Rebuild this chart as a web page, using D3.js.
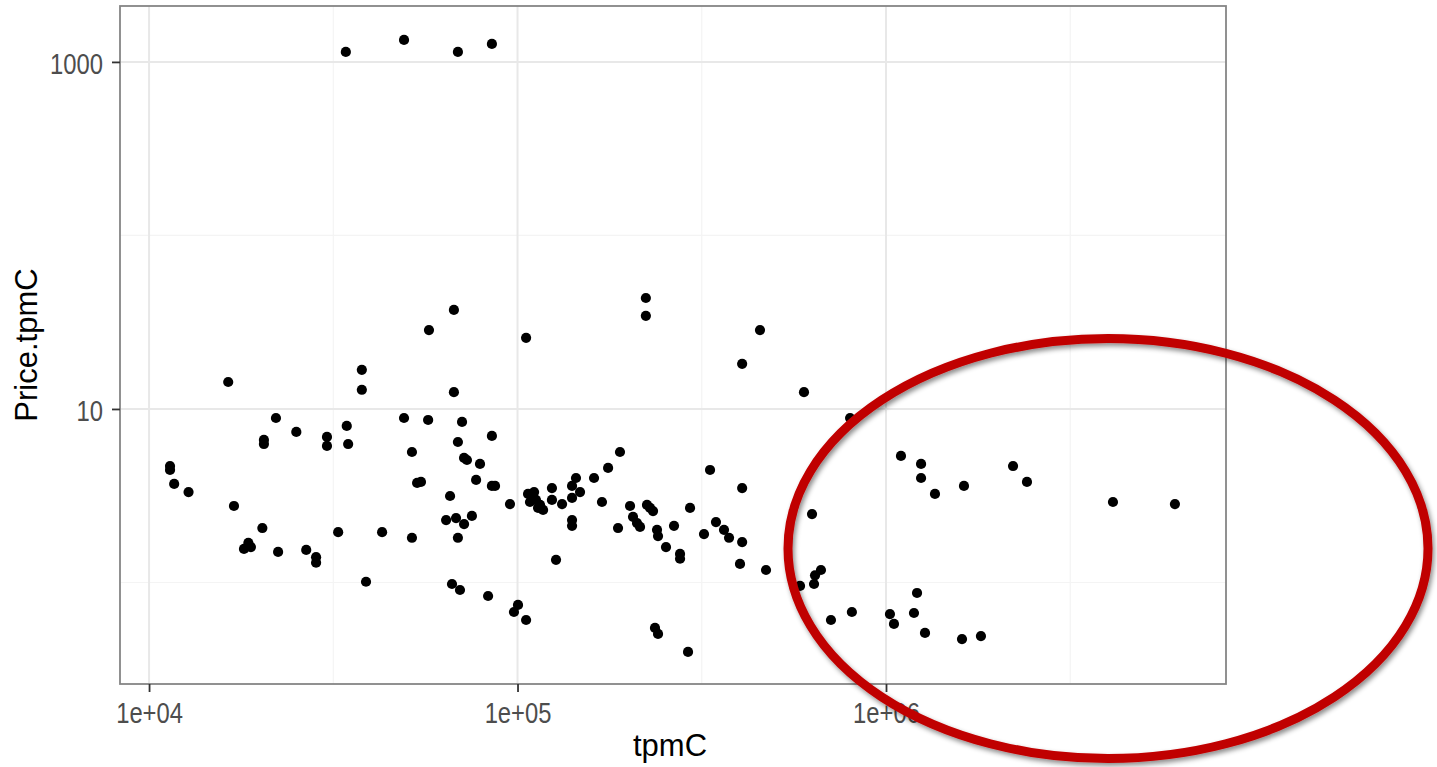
<!DOCTYPE html>
<html><head><meta charset="utf-8">
<script src="https://cdn.jsdelivr.net/npm/d3@7/dist/d3.min.js"></script>
<style>body{margin:0;background:#fff;} svg{display:block;}</style>
</head><body><svg id="c" width="1437" height="767"></svg>
<script>
// ---- data ----
const tpmC = [34200,49200,68900,85200,57500,67200,105500,223000,223000,455000,407000,599000,37800,37800,16400,67200,799000,
22100,20500,20500,25100,30400,30400,34400,34700,49200,57200,51700,70700,68900,85200,71600,72900,79100,189700,176100,333000,
11400,11400,11700,12800,17000,20300,18100,18600,18900,22400,26700,28400,28400,32600,38800,42900,51700,53400,54700,65600,77200,
85200,86900,95400,64000,68100,71600,75200,68900,66400,69800,83200,100300,97800,105500,
106800,110900,108100,112200,115100,117300,113700,109500,124000,124000,132100,140600,140600,144100,147800,140600,140600,161300,
169500,127200,187400,202000,205800,211000,215000,224600,228900,233200,239100,240600,252900,265900,276100,276100,293900,320700,
345600,363400,375000,407000,407000,401600,472500,236100,240600,290200,
629900,584300,637800,641800,666000,709000,808000,1025000,1051000,1098000,1245000,1245000,1358000,1628000,2212000,2413000,
4130000,6083000,1214000,1191000,1276000,1608000,1810000];
const priceTpmC = [1142,1339,1142,1270,28.5,37.2,25.7,43.6,34.4,28.5,18.2,12.5,16.8,12.9,14.3,12.5,8.87,
8.87,6.63,6.28,7.37,6.90,6.12,7.98,6.28,8.87,8.64,5.65,8.42,6.45,6.99,5.22,5.08,4.82,5.65,4.57,4.45,
4.69,4.45,3.70,3.32,2.76,2.06,1.56,1.69,1.60,1.50,1.54,1.40,1.30,1.95,1.01,1.95,1.81,3.75,3.80,3.15,3.90,
3.60,3.60,2.83,2.29,2.35,2.17,2.42,1.81,0.98,0.905,0.836,0.742,0.676,0.608,
3.24,3.32,2.91,2.99,2.80,2.62,2.69,3.07,3.50,2.99,2.83,3.07,3.60,4.00,3.32,2.29,2.12,4.00,
2.91,1.35,2.06,2.76,2.39,2.20,2.09,2.80,2.69,2.58,2.01,1.85,1.60,2.12,1.46,1.37,2.69,1.90,
2.23,2.01,1.81,1.71,3.50,1.28,1.18,0.547,0.505,0.398,
2.48,0.955,0.98,1.10,1.18,0.608,0.676,0.658,0.577,5.36,4.82,4.00,3.24,3.60,4.69,3.80,
2.91,2.83,0.870,0.667,0.512,0.472,0.491];
const xBreaks = [1e4, 1e5, 1e6];
const xBreakLabels = ["1e+04", "1e+05", "1e+06"];
const xMinorBreaks = [31623, 316228, 3162278];
const yBreaks = [10, 1000];
const yBreakLabels = ["10", "1000"];
const yMinorBreaks = [1, 100];
const xTitle = "tpmC";
const yTitle = "Price.tpmC";

// ---- drawing ----
const svg = d3.select("#c");
const P = {l:120, r:1226, t:6, b:684};
const x = d3.scaleLog().domain([8340, 8.37e6]).range([P.l, P.r]);
const y = d3.scaleLog().domain([0.26, 2100]).range([P.b, P.t]);

const defs = svg.append("defs");
const f = defs.append("filter").attr("id","sh").attr("x","-10%").attr("y","-10%").attr("width","120%").attr("height","125%");
f.append("feDropShadow").attr("dx",2).attr("dy",3).attr("stdDeviation",2.5).attr("flood-color","#000").attr("flood-opacity",0.45);

const grid = svg.append("g");
grid.selectAll(".xm").data(xMinorBreaks).join("line")
  .attr("x1",d=>x(d)).attr("x2",d=>x(d)).attr("y1",P.t).attr("y2",P.b)
  .attr("stroke","#f4f4f4").attr("stroke-width",1.2);
grid.selectAll(".ym").data(yMinorBreaks).join("line")
  .attr("y1",d=>y(d)).attr("y2",d=>y(d)).attr("x1",P.l).attr("x2",P.r)
  .attr("stroke","#f4f4f4").attr("stroke-width",1.2);
grid.selectAll(".xM").data(xBreaks).join("line")
  .attr("x1",d=>x(d)).attr("x2",d=>x(d)).attr("y1",P.t).attr("y2",P.b)
  .attr("stroke","#e8e8e8").attr("stroke-width",2);
grid.selectAll(".yM").data(yBreaks).join("line")
  .attr("y1",d=>y(d)).attr("y2",d=>y(d)).attr("x1",P.l).attr("x2",P.r)
  .attr("stroke","#e8e8e8").attr("stroke-width",2);

// points
svg.append("g").selectAll("circle").data(tpmC.map((v,i)=>[v,priceTpmC[i]])).join("circle")
  .attr("cx",d=>x(d[0])).attr("cy",d=>y(d[1])).attr("r",5.1).attr("fill","#000");

// border
svg.append("rect").attr("x",P.l).attr("y",P.t).attr("width",P.r-P.l).attr("height",P.b-P.t)
  .attr("fill","none").attr("stroke","#858585").attr("stroke-width",1.8);

const tickFont = "'Liberation Sans',Arial,sans-serif";
// x axis
const xa = svg.append("g").attr("transform",`translate(0,${P.b})`)
  .call(d3.axisBottom(x).tickValues(xBreaks).tickFormat((d,i)=>xBreakLabels[i]).tickSize(8).tickPadding(10));
// y axis
const ya = svg.append("g").attr("transform",`translate(${P.l},0)`)
  .call(d3.axisLeft(y).tickValues(yBreaks).tickFormat((d,i)=>yBreakLabels[i]).tickSize(8).tickPadding(9));
[xa,ya].forEach(a=>{
  a.select(".domain").remove();
  a.selectAll(".tick line").attr("stroke","#333").attr("stroke-width",1.8);
  a.selectAll(".tick text").attr("fill","#4d4d4d").style("font-family",tickFont).style("font-size","29px")
    .each(function(){
      const len = this.getComputedTextLength();
      d3.select(this).attr("textLength", len*0.82).attr("lengthAdjust","spacingAndGlyphs");
    });
});
xa.selectAll(".tick text").attr("dy","0.71em");
ya.selectAll(".tick text").attr("dy","0.4em");

// titles
svg.append("text").attr("x",(P.l+P.r)/2 - 3).attr("y",756).attr("text-anchor","middle")
  .style("font-family","'Liberation Sans',Arial,sans-serif").style("font-size","31px").attr("fill","#000").text(xTitle);
svg.append("text").attr("transform",`translate(37,${(P.t+P.b)/2}) rotate(-90)`).attr("text-anchor","middle")
  .style("font-family","'Liberation Sans',Arial,sans-serif").style("font-size","31px").attr("fill","#000").text(yTitle);

// annotation ellipse
svg.append("ellipse").attr("cx",1108).attr("cy",548.5).attr("rx",320).attr("ry",210)
  .attr("fill","none").attr("stroke","#c00000").attr("stroke-width",9).attr("filter","url(#sh)");
</script></body></html>
